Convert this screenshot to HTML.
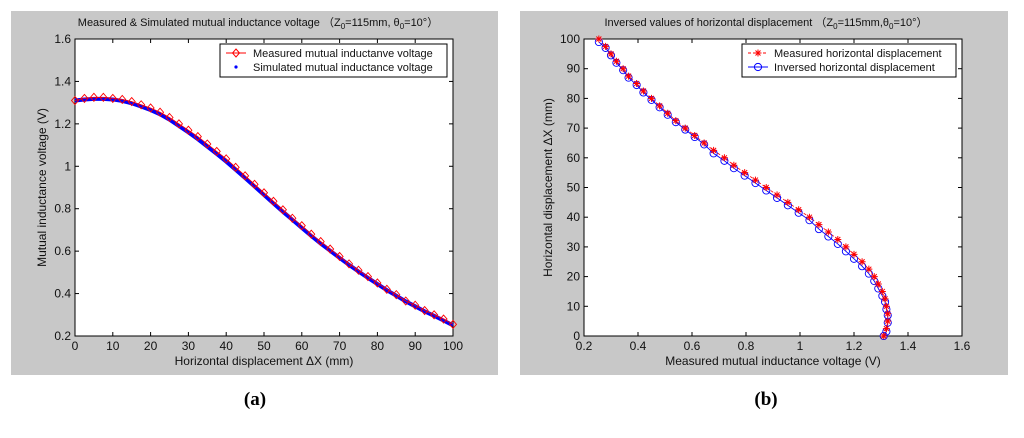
<!DOCTYPE html>
<html><head><meta charset="utf-8">
<style>
body{margin:0;background:#fff;width:1024px;height:438px;overflow:hidden;font-family:"Liberation Sans",sans-serif;}
svg{position:absolute;left:0;top:0}
</style></head>
<body>
<svg id="c" width="1024" height="438" font-family="Liberation Sans, sans-serif"></svg>
<script>
const xsA=[0,2.5,5,7.5,10,12.5,15,17.5,20,22.5,25,27.5,30,32.5,35,37.5,40,42.5,45,47.5,50,52.5,55,57.5,60,62.5,65,67.5,70,72.5,75,77.5,80,82.5,85,87.5,90,92.5,95,97.5,100];
const measuredV=[1.31,1.32,1.325,1.325,1.32,1.315,1.305,1.29,1.275,1.255,1.23,1.2,1.17,1.14,1.105,1.07,1.035,0.995,0.955,0.915,0.875,0.835,0.795,0.755,0.72,0.68,0.645,0.61,0.575,0.54,0.51,0.48,0.45,0.42,0.395,0.365,0.345,0.32,0.3,0.28,0.255];
const simulatedV=[1.31,1.315,1.318,1.318,1.315,1.308,1.297,1.282,1.265,1.245,1.22,1.19,1.16,1.128,1.093,1.058,1.022,0.984,0.945,0.905,0.865,0.825,0.786,0.748,0.71,0.672,0.636,0.602,0.568,0.535,0.504,0.474,0.445,0.416,0.39,0.363,0.34,0.316,0.295,0.273,0.25];
const measuredD=[0,2.5,5,7.5,10,12.5,15,17.5,20,22.5,25,27.5,30,32.5,35,37.5,40,42.5,45,47.5,50,52.5,55,57.5,60,62.5,65,67.5,70,72.5,75,77.5,80,82.5,85,87.5,90,92.5,95,97.5,100];
const inversedD=[0,1.5,4.5,7,9,11.5,13.5,16,18.5,21,23.5,26,28.5,31,33.5,36,39,41.5,44,46.5,49,51.5,54,56.5,59,61.5,64.5,67,69.5,72,74.5,77,79.5,82,84.5,87,89.5,92,94.5,97,99];
const xTicksA=[0,10,20,30,40,50,60,70,80,90,100];
const yTicksA=[0.2,0.4,0.6,0.8,1,1.2,1.4,1.6];
const xTicksB=[0.2,0.4,0.6,0.8,1,1.2,1.4,1.6];
const yTicksB=[0,10,20,30,40,50,60,70,80,90,100];

const NS="http://www.w3.org/2000/svg";
const svg=document.getElementById('c');
function mk(t,a,p){const e=document.createElementNS(NS,t);for(const k in a)e.setAttribute(k,a[k]);(p||svg).appendChild(e);return e;}
function txt(s,a,p){const e=mk('text',a,p);e.textContent=s;return e;}

function panel(o){
  const g=mk('g',{});
  
  
  const bg=mk('rect',{x:o.px,y:11,width:o.pw,height:364,fill:'#c8c8c8'},g);
  
  
  const L=o.L,R=o.R,T=39,B=336;
  const sx=v=>L+(v-o.x0)/(o.x1-o.x0)*(R-L);
  const sy=v=>B-(v-o.y0)/(o.y1-o.y0)*(B-T);
  const pa=mk('rect',{x:L,y:T,width:R-L,height:B-T,fill:'#fff',stroke:'#000','stroke-width':1},g);
  
  
  o.xt.forEach(v=>{const x=sx(v);
    mk('line',{x1:x,y1:B,x2:x,y2:B-4,stroke:'#000'},g);mk('line',{x1:x,y1:T,x2:x,y2:T+4,stroke:'#000'},g);
    const t=txt(String(v),{x:x,y:B+14,'font-size':12,'text-anchor':'middle',fill:'#111'},g);
    });
  o.yt.forEach(v=>{const y=sy(v);
    mk('line',{x1:L,y1:y,x2:L+4,y2:y,stroke:'#000'},g);mk('line',{x1:R,y1:y,x2:R-4,y2:y,stroke:'#000'},g);
    const t=txt(String(v),{x:L-4,y:y+4,'font-size':12,'text-anchor':'end',fill:'#111'},g);
    });
  const tt=txt('',{x:o.tx,y:26,'font-size':11,'text-anchor':'middle',fill:'#111'},g);
  tt.innerHTML=o.title;
  
  const xl=txt(o.xl,{x:(L+R)/2,y:365,'font-size':12,'text-anchor':'middle',fill:'#111'},g);
  
  const yl=txt(o.yl,{x:0,y:0,'font-size':12,'text-anchor':'middle',fill:'#111',transform:`translate(${o.ylx},${(T+B)/2}) rotate(-90)`},g);
  
  const cap=txt(o.cap,{x:o.capx,y:405,'font-size':19,'text-anchor':'middle',fill:'#000','font-family':'Liberation Serif, serif','font-weight':'bold'},g);
  
  return {g,sx,sy};
}

// Panel A
const A=panel({name:'chart-a',px:11,pw:487,L:75,R:453,x0:0,x1:100,y0:0.2,y1:1.6,xt:xTicksA,yt:yTicksA,
 title:'Measured &amp; Simulated mutual inductance voltage （Z<tspan font-size="8" dy="3">0</tspan><tspan dy="-3">=115mm, θ</tspan><tspan font-size="8" dy="3">0</tspan><tspan dy="-3">=10°）</tspan>',
 tx:258,xl:'Horizontal displacement ΔX (mm)',yl:'Mutual inductance voltage (V)',ylx:46,cap:'(a)',capx:255});
const simLine=mk('polyline',{points:xsA.map((x,i)=>A.sx(x)+','+A.sy(simulatedV[i])).join(' '),fill:'none',stroke:'#0000ff','stroke-width':4},A.g);


const mLine=mk('polyline',{points:xsA.map((x,i)=>A.sx(x)+','+A.sy(measuredV[i])).join(' '),fill:'none',stroke:'#ff0000','stroke-width':0.8},A.g);


xsA.forEach((x,i)=>{const cx=A.sx(x),cy=A.sy(measuredV[i]);
  const d=mk('polygon',{points:`${cx},${cy-4} ${cx+3.5},${cy} ${cx},${cy+4} ${cx-3.5},${cy}`,fill:'none',stroke:'#ff0000','stroke-width':0.9},A.g);
  
  });
const lgA=mk('g',{},A.g);


mk('rect',{x:220,y:44,width:227,height:33,fill:'#fff',stroke:'#000'},lgA);
mk('line',{x1:226,y1:53,x2:246,y2:53,stroke:'#f00'},lgA);
mk('polygon',{points:'236,49 239.5,53 236,57 232.5,53',fill:'none',stroke:'#f00'},lgA);
txt('Measured mutual inductanve voltage',{x:253,y:57,'font-size':11,fill:'#111'},lgA);
mk('circle',{cx:236,cy:67,r:1.6,fill:'#00f'},lgA);
txt('Simulated mutual inductance voltage',{x:253,y:71,'font-size':11,fill:'#111'},lgA);

// Panel B
const B=panel({name:'chart-b',px:520,pw:488,L:584,R:962,x0:0.2,x1:1.6,y0:0,y1:100,xt:xTicksB,yt:yTicksB,
 title:'Inversed values of horizontal displacement （Z<tspan font-size="8" dy="3">0</tspan><tspan dy="-3">=115mm,θ</tspan><tspan font-size="8" dy="3">0</tspan><tspan dy="-3">=10°）</tspan>',
 tx:766,xl:'Measured mutual inductance voltage (V)',yl:'Horizontal displacement ΔX (mm)',ylx:552,cap:'(b)',capx:766});
const invLine=mk('polyline',{points:measuredV.map((v,i)=>B.sx(v)+','+B.sy(inversedD[i])).join(' '),fill:'none',stroke:'#0000ff','stroke-width':0.9},B.g);


const mdLine=mk('polyline',{points:measuredV.map((v,i)=>B.sx(v)+','+B.sy(measuredD[i])).join(' '),fill:'none',stroke:'#ff0000','stroke-width':0.8,'stroke-dasharray':'3,2'},B.g);


measuredV.forEach((v,i)=>{const cx=B.sx(v),cy=B.sy(inversedD[i]);
  const c=mk('circle',{cx:cx,cy:cy,r:3.6,fill:'none',stroke:'#0000ff','stroke-width':0.9},B.g);
  
  });
measuredV.forEach((v,i)=>{const cx=B.sx(v),cy=B.sy(measuredD[i]);
  const s=mk('path',{d:`M${cx-3.5},${cy}H${cx+3.5}M${cx},${cy-3.5}V${cy+3.5}M${cx-2.5},${cy-2.5}L${cx+2.5},${cy+2.5}M${cx-2.5},${cy+2.5}L${cx+2.5},${cy-2.5}`,stroke:'#ff0000','stroke-width':1},B.g);
  
  });
const lgB=mk('g',{},B.g);


mk('rect',{x:742,y:44,width:214,height:33,fill:'#fff',stroke:'#000'},lgB);
mk('line',{x1:748,y1:53,x2:768,y2:53,stroke:'#f00','stroke-dasharray':'3,2'},lgB);
mk('path',{d:'M754.5,53H761.5M758,49.5V56.5M755.5,50.5L760.5,55.5M755.5,55.5L760.5,50.5',stroke:'#f00'},lgB);
txt('Measured horizontal displacement',{x:774,y:57,'font-size':11,fill:'#111'},lgB);
mk('line',{x1:748,y1:67,x2:768,y2:67,stroke:'#00f'},lgB);
mk('circle',{cx:758,cy:67,r:3.6,fill:'none',stroke:'#00f'},lgB);
txt('Inversed horizontal displacement',{x:774,y:71,'font-size':11,fill:'#111'},lgB);
</script>
</body></html>
